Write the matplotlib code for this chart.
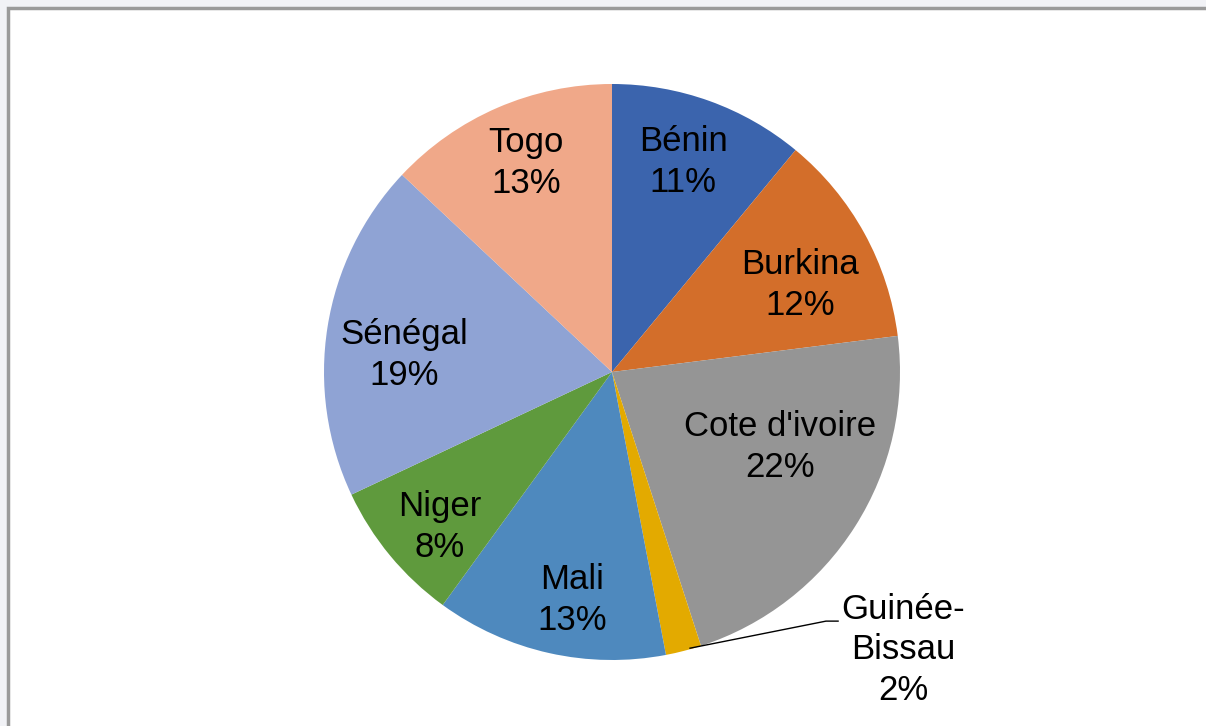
import matplotlib.pyplot as plt
from matplotlib.patches import Rectangle

plt.rcParams['font.family'] = ['Liberation Sans', 'DejaVu Sans']

# data
countries = ['Bénin', 'Burkina', "Cote d'ivoire", 'Guinée-\nBissau', 'Mali', 'Niger', 'Sénégal', 'Togo']
shares = [11, 12, 22, 2, 13, 8, 19, 13]
colors = ['#3B64AD', '#D36E2A', '#959595', '#E3AA00', '#4E89BE', '#5F9A3D', '#8FA3D4', '#F0A889']

# label spots (in pie radius units), Excel "best fit" style
label_xy = [(0.247, 0.729), (0.653, 0.302), (0.583, -0.260), (1.010, -0.965),
            (-0.139, -0.792), (-0.597, -0.538), (-0.722, 0.059), (-0.299, 0.726)]

W, H = 1206, 726
fig = plt.figure(figsize=(W / 100, H / 100), dpi=100)
fig.patch.set_facecolor('#f1f2f6')

# white chart area with grey frame (top/left visible)
fig.patches.append(Rectangle((8 / W, -0.05), 1.05, 1 - 8 / H + 0.05,
                             transform=fig.transFigure, facecolor='white',
                             edgecolor='#9a9a9a', linewidth=2.5, zorder=-1))

cx, cy, r = 612, 372, 288
ax = fig.add_axes([(cx - r) / W, (H - cy - r) / H, 2 * r / W, 2 * r / H])
ax.set_zorder(2)

wedges, _ = ax.pie(shares, colors=colors, startangle=90, counterclock=False,
                   radius=1, wedgeprops=dict(linewidth=0))
for w in wedges:
    w.set_clip_on(False)
ax.set_xlim(-1, 1)
ax.set_ylim(-1, 1)
ax.axis('off')

for name, val, (x, y) in zip(countries, shares, label_xy):
    ax.text(x, y, f'{name}\n{val}%', ha='center', va='center', fontsize=25,
            linespacing=1.28, clip_on=False)

# leader line for the small slice
ax.plot([0.271, 0.743, 0.785], [-0.959, -0.865, -0.865], color='black',
        linewidth=1, clip_on=False)

fig.savefig('out.png', dpi=100)
